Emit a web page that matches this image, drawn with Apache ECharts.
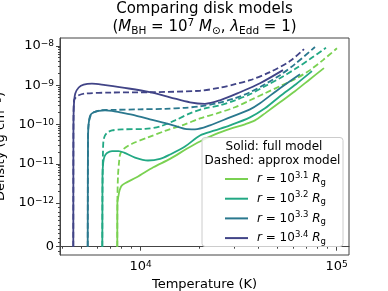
<!DOCTYPE html>
<html><head><meta charset="utf-8">
<script src="https://cdn.jsdelivr.net/npm/echarts@6/dist/echarts.min.js"></script>
<style>html,body{margin:0;padding:0;background:#fff}#c{width:388px;height:291px}</style>
</head><body><div id="c"></div>
<script>
// ---- data: [Temperature (K), Density (g cm^-3)] ----
const radiusLabels = ['3.1', '3.2', '3.3', '3.4'];
const full31 = [[7597,0],[7605,1.0e-12],[7705,1.54e-12],[7796,2.06e-12],[8000,2.77e-12],[8485,3.36e-12],[9541,4.52e-12],[11600,8.13e-12],[14110,1.33e-11],[17170,2.40e-11],[20070,3.70e-11],[23940,5.58e-11],[28550,7.71e-11],[34050,1.01e-10],[38300,1.27e-10],[43070,1.92e-10],[51360,3.67e-10],[61260,7.03e-10],[73080,1.42e-9],[86140,2.72e-9]];
const approx31 = [[7597,0],[7605,1.0e-12],[7661,4.99e-12],[7751,1.07e-11],[7870,1.79e-11],[8191,2.40e-11],[9030,3.23e-11],[10895,4.68e-11],[13305,6.86e-11],[16827,1.01e-10],[20073,1.43e-10],[24506,1.92e-10],[30277,2.74e-10],[36118,4.13e-10],[43071,6.24e-10],[51362,9.42e-10],[61261,1.42e-9],[73080,2.42e-9],[85130,4.36e-9],[100350,8.69e-9]];
const full32 = [[6370,0],[6378,1e-12],[6385,4.99e-12],[6438,1.07e-11],[6537,1.53e-11],[6733,1.88e-11],[7140,2.11e-11],[7705,2.11e-11],[8220,1.93e-11],[9352,1.44e-11],[10895,1.21e-11],[12548,1.33e-11],[14109,1.72e-11],[16827,2.75e-11],[20073,5.26e-11],[23937,7.06e-11],[28550,9.48e-11],[36118,1.52e-10],[43071,2.58e-10],[51362,5.23e-10],[61985,1.06e-9],[74820,2.28e-9]];
const approx32 = [[6370,0],[6378,1e-12],[6395,5e-12],[6423,2.18e-11],[6460,3.92e-11],[6576,5.26e-11],[6772,6.28e-11],[7140,7.06e-11],[8029,7.5e-11],[10517,7.71e-11],[12548,8.94e-11],[14962,1.27e-10],[17844,1.92e-10],[21288,2.58e-10],[25384,3.08e-10],[30277,4.13e-10],[36118,5.89e-10],[43071,9.42e-10],[51362,1.51e-9],[61261,2.57e-9],[73080,4.62e-9],[88190,8.99e-9]];
const full33 = [[5366,0],[5372,1e-12],[5385,3.92e-11],[5417,9.48e-11],[5533,1.71e-10],[5757,2.04e-10],[6105,2.23e-10],[6576,2.29e-10],[7140,2.23e-10],[7843,2.04e-10],[9352,1.71e-10],[11153,1.35e-10],[14109,1.01e-10],[16827,7.71e-11],[18923,7.5e-11],[22574,9.48e-11],[28550,1.52e-10],[36118,2.43e-10],[40614,3.47e-10],[51362,8.38e-10],[64991,1.91e-9]];
const approx33 = [[5366,0],[5372,1e-12],[5385,3.92e-11],[5417,9.48e-11],[5533,1.61e-10],[5777,2.04e-10],[6198,2.29e-10],[7396,2.36e-10],[9918,2.43e-10],[13305,2.51e-10],[16827,2.66e-10],[20073,2.90e-10],[24506,3.47e-10],[30277,4.65e-10],[36118,6.62e-10],[43071,1.06e-9],[51362,1.80e-9],[61261,3.44e-9],[77500,9.38e-9]];
const full34 = [[4530,0],[4532,1e-12],[4535,2.18e-11],[4541,1.27e-10],[4568,3.47e-10],[4637,6.13e-10],[4828,8.74e-10],[5120,1.04e-9],[5643,1.10e-9],[6599,1.00e-9],[8687,8.24e-10],[11153,6.62e-10],[14109,4.93e-10],[17844,3.67e-10],[21288,3.36e-10],[25384,4.13e-10],[32106,6.62e-10],[40614,1.12e-9],[53205,2.42e-9]];
const approx34 = [[4530,0],[4532,1e-12],[4535,2.18e-11],[4541,1.27e-10],[4568,4.13e-10],[4676,4.93e-10],[4828,5.55e-10],[5216,6.13e-10],[7140,6.50e-10],[11153,6.62e-10],[20073,7.23e-10],[25384,8.63e-10],[30277,1.06e-9],[36118,1.34e-9],[45677,2.15e-9],[57768,4.11e-9],[68112,8.33e-9]];

const fullModels = [full31, full32, full33, full34];
const approxModels = [approx31, approx32, approx33, approx34];

// ---- ticks ----
const xMajorTicks = [1e4, 1e5];
const xMinorTicks = [4000, 5000, 6000, 7000, 8000, 9000, 20000, 30000, 40000, 50000, 60000, 70000, 80000, 90000];
const yMajorTicks = [0, 1e-12, 1e-11, 1e-10, 1e-9, 1e-8];
const yMinorMantissas = [2, 3, 4, 5, 6, 7, 8, 9];
const yMinorDecades = [-12, -11, -10, -9];
const yLinearMinorTicks = [-1e-13, 1e-13, 2e-13, 3e-13, 4e-13, 5e-13, 6e-13, 7e-13, 8e-13, 9e-13];
const xRange = [3875, 115600];
const yRange = [-1.9e-13, 1.59e-8];

// ---- styles ----
const colors = ['#7ad151', '#22a884', '#2a788e', '#414487'];
const FONT = 'DejaVu Sans';
const AXIS_COLOR = '#444';

// symlog transform (linthresh 1e-12, linscale 1, base 10)
const LINTHRESH = 1e-12;
const LINSCALE = 1 / (1 - 1 / 10);
function symlog(v) {
  const a = Math.abs(v);
  if (a <= LINTHRESH) return v / LINTHRESH * LINSCALE;
  return Math.sign(v) * (Math.log10(a / LINTHRESH) + LINSCALE);
}
const lx = v => Math.log10(v);
const toXY = arr => arr.map(p => [lx(p[0]), symlog(p[1])]);

const yMinorTicks = yLinearMinorTicks.slice();
yMinorDecades.forEach(d => yMinorMantissas.forEach(m => yMinorTicks.push(m * Math.pow(10, d))));

const supRich = {
  sup: { fontSize: 9, fontFamily: FONT, color: '#000', verticalAlign: 'top', lineHeight: 8 },
  sub: { fontSize: 9, fontFamily: FONT, color: '#000', verticalAlign: 'bottom', lineHeight: 8 },
  i: { fontStyle: 'italic', fontFamily: FONT, color: '#000' }
};

const series = [];
radiusLabels.forEach((lbl, k) => {
  series.push({
    name: lbl, type: 'line', data: toXY(fullModels[k]), symbol: 'none', showSymbol: false,
    smooth: 0.3, clip: true, z: 3,
    lineStyle: { color: colors[k], width: 1.8 }, itemStyle: { color: colors[k] }
  });
  series.push({
    name: lbl + ' approx', type: 'line', data: toXY(approxModels[k]), symbol: 'none', showSymbol: false,
    smooth: 0.3, clip: true, z: 3,
    lineStyle: { color: colors[k], width: 1.8, type: [6, 3] }, itemStyle: { color: colors[k] }
  });
});

const chart = echarts.init(document.getElementById('c'), null, { renderer: 'canvas' });
chart.setOption({
  animation: false,
  backgroundColor: '#fff',
  title: [
    { text: 'Comparing disk models', left: 204.5, top: 0, textAlign: 'center', padding: 0,
      textStyle: { fontSize: 15, fontWeight: 'normal', fontFamily: FONT, color: '#000', lineHeight: 18 } },
    { text: '({i|M}{sub|BH} = 10{sup|7} {i|M}{sub|\u2299}, {i|\u03bb}{sub|Edd} = 1)', left: 204.5, top: 18, textAlign: 'center', padding: 0,
      textStyle: { fontSize: 15, fontWeight: 'normal', fontFamily: FONT, color: '#000', lineHeight: 19,
        rich: {
          i: { fontSize: 15, fontStyle: 'italic', fontFamily: FONT, color: '#000' },
          sup: { fontSize: 10.5, fontFamily: FONT, color: '#000', verticalAlign: 'top', lineHeight: 10 },
          sub: { fontSize: 10.5, fontFamily: FONT, color: '#000', verticalAlign: 'bottom', lineHeight: 9 }
        } } }
  ],
  grid: { left: 60, right: 39, top: 38, bottom: 36, containLabel: false, outerBoundsMode: 'none',
    show: true, borderColor: AXIS_COLOR, borderWidth: 1, backgroundColor: 'transparent' },
  xAxis: [
    { type: 'value', min: lx(xRange[0]), max: lx(xRange[1]), position: 'bottom',
      name: 'Temperature (K)', nameLocation: 'middle', nameGap: 20,
      nameTextStyle: { fontSize: 13, fontFamily: FONT, color: '#000' },
      axisLine: { show: true, lineStyle: { color: AXIS_COLOR, width: 1 } },
      axisTick: { show: true, length: 4, customValues: xMajorTicks.map(lx), lineStyle: { color: AXIS_COLOR } },
      axisLabel: { customValues: xMajorTicks.map(lx), margin: 5, fontSize: 13, fontFamily: FONT, color: '#000',
        formatter: v => '10{sup|' + Math.round(v) + '}', rich: supRich },
      splitLine: { show: false } },
    { type: 'value', min: lx(xRange[0]), max: lx(xRange[1]), position: 'bottom',
      axisLine: { show: false },
      axisTick: { show: true, length: 2, customValues: xMinorTicks.map(lx), lineStyle: { color: AXIS_COLOR } },
      axisLabel: { show: false }, splitLine: { show: false } }
  ],
  yAxis: [
    { type: 'value', min: symlog(yRange[0]), max: symlog(yRange[1]), position: 'left',
      name: 'Density (g cm{sup|\u22123})', nameLocation: 'middle', nameGap: 34, nameRotate: 90,
      nameTextStyle: { fontSize: 13, fontFamily: FONT, color: '#000', rich: supRich },
      axisLine: { show: true, lineStyle: { color: AXIS_COLOR, width: 1 } },
      axisTick: { show: true, length: 4, customValues: yMajorTicks.map(symlog), lineStyle: { color: AXIS_COLOR } },
      axisLabel: { customValues: yMajorTicks.map(symlog), margin: 6, fontSize: 13, fontFamily: FONT, color: '#000', rich: supRich,
        formatter: v => Math.abs(v) < 1e-6 ? '0' : '10{sup|\u2212' + (12 - Math.round(v - LINSCALE)) + '}' },
      splitLine: { show: false } },
    { type: 'value', min: symlog(yRange[0]), max: symlog(yRange[1]), position: 'left',
      axisLine: { show: false },
      axisTick: { show: true, length: 2, customValues: yMinorTicks.map(symlog), lineStyle: { color: AXIS_COLOR } },
      axisLabel: { show: false }, splitLine: { show: false } }
  ],
  legend: {
    data: radiusLabels, orient: 'vertical', left: 225, top: 171, padding: 0, z: 60,
    icon: 'rect', itemWidth: 23, itemHeight: 2, itemGap: 3.7,
    textStyle: { fontSize: 12, fontFamily: FONT, color: '#000', lineHeight: 16, padding: [0, 0, 0, 4],
      rich: {
        i: { fontSize: 12, fontStyle: 'italic', fontFamily: FONT, color: '#000' },
        sup: { fontSize: 8.5, fontFamily: FONT, color: '#000', verticalAlign: 'top', lineHeight: 9 },
        sub: { fontSize: 8.5, fontFamily: FONT, color: '#000', verticalAlign: 'bottom', lineHeight: 9 }
      } },
    formatter: n => '{i|r} = 10{sup|' + n + '} {i|R}{sub|g}'
  },
  graphic: [
    { type: 'rect', x: 202, y: 137.5, z: 50, shape: { x: 0, y: 0, width: 141, height: 109, r: 3 },
      style: { fill: 'rgba(255,255,255,0.8)', stroke: '#cccccc', lineWidth: 1 } },
    { type: 'text', x: 274, y: 146.7, z: 60,
      style: { text: 'Solid: full model', fontSize: 12, fontFamily: FONT, fill: '#000', align: 'center', verticalAlign: 'middle' } },
    { type: 'text', x: 272.5, y: 161, z: 60,
      style: { text: 'Dashed: approx model', fontSize: 12, fontFamily: FONT, fill: '#000', align: 'center', verticalAlign: 'middle' } }
  ],
  series: series
});
</script>
</body></html>
